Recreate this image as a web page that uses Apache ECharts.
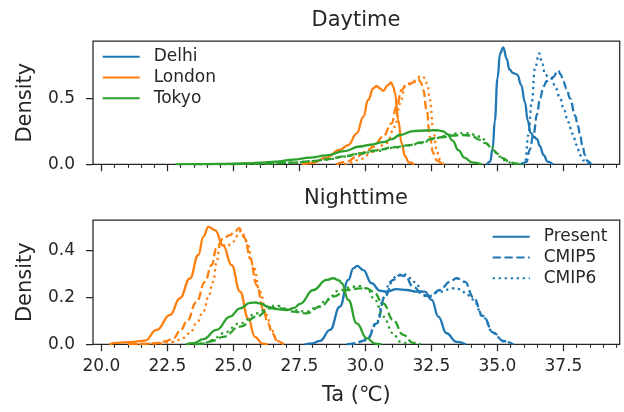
<!DOCTYPE html>
<html>
<head>
<meta charset="utf-8">
<script src="https://cdn.jsdelivr.net/npm/echarts@6/dist/echarts.min.js"></script>
<style>
  html, body { margin: 0; padding: 0; background: #ffffff; }
  #chart { width: 624px; height: 412px; }
</style>
</head>
<body>
<div id="chart"></div>
<script>
// Air temperature (Ta, °C) density curves: [temperature, density]
// ---- Daytime ----
const delhiDayPresent = [[34.6,0],[34.72,0.02],[34.82,0.12],[34.9,0.33],[35.0,0.65],[35.1,0.84],[35.22,0.886],[35.35,0.80],[35.45,0.72],[35.6,0.69],[35.75,0.68],[35.9,0.60],[36.04,0.47],[36.15,0.33],[36.25,0.24],[36.4,0.205],[36.5,0.19],[36.6,0.14],[36.75,0.07],[36.9,0.02],[37.1,0]];
const delhiDayCmip5 = [[35.95,0],[36.1,0.02],[36.22,0.11],[36.36,0.22],[36.5,0.38],[36.61,0.50],[36.75,0.59],[36.86,0.63],[37.0,0.64],[37.1,0.66],[37.3,0.71],[37.4,0.68],[37.49,0.63],[37.62,0.57],[37.75,0.50],[37.94,0.37],[38.05,0.29],[38.13,0.22],[38.22,0.14],[38.31,0.07],[38.4,0.025],[38.55,0]];
const delhiDayCmip6 = [[35.9,0],[36.05,0.02],[36.17,0.22],[36.3,0.47],[36.42,0.73],[36.58,0.84],[36.7,0.76],[36.8,0.68],[36.95,0.66],[37.05,0.65],[37.2,0.58],[37.37,0.50],[37.52,0.41],[37.68,0.32],[37.85,0.23],[38.0,0.146],[38.13,0.07],[38.25,0.03],[38.45,0]];
const londonDayPresent = [[27.6,0],[28.0,0.01],[28.5,0.05],[29.03,0.11],[29.35,0.146],[29.67,0.235],[29.92,0.36],[30.1,0.487],[30.3,0.576],[30.42,0.593],[30.55,0.575],[30.67,0.557],[30.85,0.60],[30.97,0.62],[31.05,0.59],[31.12,0.54],[31.24,0.335],[31.37,0.16],[31.5,0.06],[31.65,0.015],[31.85,0]];
const londonDayCmip5 = [[28.9,0],[29.3,0.02],[29.67,0.058],[30.0,0.095],[30.3,0.133],[30.67,0.21],[30.99,0.31],[31.18,0.44],[31.37,0.563],[31.56,0.61],[31.7,0.612],[31.81,0.62],[32.0,0.646],[32.1,0.62],[32.19,0.563],[32.32,0.41],[32.44,0.21],[32.57,0.083],[32.7,0.03],[32.9,0]];
const londonDayCmip6 = [[29.2,0],[29.5,0.015],[29.8,0.04],[30.3,0.095],[30.8,0.16],[31.12,0.285],[31.31,0.46],[31.5,0.59],[31.75,0.61],[31.95,0.65],[32.09,0.67],[32.25,0.655],[32.35,0.60],[32.44,0.49],[32.57,0.26],[32.7,0.108],[32.8,0.04],[32.95,0.005],[33.1,0]];
const tokyoDayPresent = [[22.8,0],[23.5,0.001],[24.5,0.003],[25.5,0.006],[26.0,0.012],[26.6,0.02],[27.27,0.036],[27.9,0.05],[28.53,0.068],[29.2,0.1],[29.79,0.135],[30.19,0.148],[30.67,0.168],[31.0,0.19],[31.3,0.222],[31.81,0.252],[32.3,0.256],[32.7,0.258],[32.95,0.25],[33.1,0.228],[33.3,0.18],[33.52,0.108],[33.75,0.05],[34.03,0.015],[34.4,0]];
const tokyoDayCmip5 = [[23.5,0],[25.0,0.002],[26.0,0.006],[27.25,0.012],[28.0,0.024],[28.53,0.038],[29.2,0.06],[29.79,0.083],[30.4,0.105],[31.05,0.129],[31.69,0.146],[32.1,0.165],[32.57,0.197],[32.88,0.205],[33.33,0.218],[33.65,0.222],[34.0,0.218],[34.33,0.185],[34.55,0.16],[34.84,0.108],[35.0,0.08],[35.22,0.045],[35.45,0.018],[35.7,0.005],[36.0,0]];
const tokyoDayCmip6 = [[23.5,0],[25.0,0.002],[26.0,0.006],[27.25,0.012],[28.0,0.024],[28.53,0.036],[29.2,0.058],[29.79,0.08],[30.4,0.1],[31.05,0.125],[31.69,0.145],[32.1,0.16],[32.57,0.19],[33.0,0.215],[33.4,0.232],[33.8,0.236],[34.1,0.225],[34.33,0.21],[34.7,0.146],[35.1,0.058],[35.35,0.02],[35.6,0.005],[35.9,0]];

// ---- Nighttime ----
const delhiNightPresent = [[27.7,0],[28.0,0.004],[28.28,0.015],[28.66,0.061],[29.03,0.16],[29.35,0.274],[29.54,0.323],[29.69,0.334],[29.92,0.316],[30.23,0.26],[30.55,0.228],[30.8,0.224],[31.18,0.235],[31.56,0.231],[31.94,0.224],[32.25,0.224],[32.51,0.189],[32.76,0.118],[33.07,0.047],[33.45,0.01],[33.8,0]];
const delhiNightCmip5 = [[29.3,0],[29.54,0.003],[30.05,0.018],[30.43,0.089],[30.74,0.203],[31.05,0.274],[31.31,0.295],[31.5,0.29],[31.81,0.245],[32.19,0.21],[32.44,0.203],[32.82,0.231],[33.2,0.266],[33.45,0.281],[33.77,0.266],[34.08,0.2],[34.46,0.12],[34.84,0.05],[35.22,0.014],[35.6,0]];
const delhiNightCmip6 = [[29.3,0],[29.6,0.004],[30.05,0.022],[30.43,0.095],[30.7,0.2],[30.93,0.266],[31.2,0.29],[31.43,0.302],[31.6,0.29],[31.81,0.266],[32.32,0.203],[32.82,0.224],[33.33,0.238],[33.6,0.235],[33.85,0.21],[34.08,0.19],[34.46,0.115],[34.84,0.048],[35.22,0.013],[35.6,0]];
const londonNightPresent = [[20.3,0],[20.58,0.006],[21.2,0.01],[21.65,0.016],[22.09,0.061],[22.6,0.125],[22.97,0.196],[23.35,0.28],[23.67,0.38],[23.86,0.458],[24.05,0.50],[24.3,0.486],[24.61,0.42],[24.93,0.337],[25.25,0.224],[25.56,0.11],[25.81,0.032],[26.1,0.003],[26.3,0]];
const londonNightCmip5 = [[21.0,0],[21.6,0.002],[22.09,0.005],[22.4,0.012],[22.72,0.025],[23.0,0.06],[23.23,0.096],[23.6,0.18],[23.92,0.266],[24.17,0.337],[24.36,0.41],[24.61,0.45],[24.87,0.465],[25.05,0.48],[25.22,0.494],[25.34,0.475],[25.44,0.45],[25.63,0.366],[25.88,0.252],[26.13,0.15],[26.3,0.09],[26.48,0.045],[26.67,0.012],[26.9,0]];
const londonNightCmip6 = [[21.3,0],[22.0,0.003],[22.72,0.01],[23.0,0.02],[23.35,0.047],[23.6,0.09],[23.86,0.139],[24.05,0.2],[24.23,0.266],[24.36,0.35],[24.49,0.42],[24.62,0.422],[24.74,0.415],[24.99,0.437],[25.25,0.48],[25.5,0.437],[25.75,0.337],[26.0,0.224],[26.26,0.125],[26.45,0.06],[26.65,0.015],[26.9,0]];
const tokyoNightPresent = [[23.2,0],[23.5,0.005],[23.86,0.022],[24.36,0.061],[24.87,0.118],[25.25,0.153],[25.63,0.176],[25.84,0.178],[26.0,0.174],[26.35,0.158],[26.64,0.15],[27.01,0.146],[27.3,0.155],[27.52,0.172],[28.02,0.231],[28.53,0.274],[28.78,0.281],[29.0,0.272],[29.1,0.26],[29.35,0.189],[29.67,0.089],[30.05,0.026],[30.37,0.003],[30.6,0]];
const tokyoNightCmip5 = [[23.6,0],[23.86,0.003],[24.2,0.014],[24.61,0.032],[25.25,0.075],[25.88,0.118],[26.38,0.153],[26.7,0.155],[27.0,0.148],[27.27,0.139],[27.77,0.132],[28.28,0.16],[28.78,0.203],[29.29,0.231],[29.79,0.238],[30.05,0.238],[30.3,0.224],[30.67,0.174],[31.05,0.103],[31.43,0.04],[31.81,0.006],[32.1,0]];
const tokyoNightCmip6 = [[23.5,0],[23.86,0.004],[24.2,0.018],[24.61,0.047],[25.25,0.089],[25.88,0.132],[26.38,0.164],[26.7,0.163],[27.0,0.152],[27.27,0.146],[27.77,0.139],[28.2,0.16],[28.53,0.189],[29.03,0.231],[29.54,0.245],[29.79,0.248],[30.05,0.238],[30.36,0.189],[30.67,0.118],[31.05,0.047],[31.3,0.012],[31.6,0]];

// Axis ticks and labels
const xMajorTicks = [20, 22.5, 25, 27.5, 30, 32.5, 35, 37.5];
const yTicksDay = [0, 0.5];
const yTicksNight = [0, 0.2, 0.4];
const cityNames = ['Delhi', 'London', 'Tokyo'];
const scenarioNames = ['Present', 'CMIP5', 'CMIP6'];
const panelTitles = ['Daytime', 'Nighttime'];

const X_MIN = 19.68, X_MAX = 39.63;
const Y_MAX_DAY = 0.934, Y_MAX_NIGHT = 0.529;

const xMinorTicks = [];
for (let v = 20; v <= 39.5 + 1e-9; v += 0.5) {
  if (Math.abs(v / 2.5 - Math.round(v / 2.5)) > 1e-6) xMinorTicks.push(v);
}

const FONT = 'DejaVu Sans';
const INK = '#262626';
const COLORS = { Delhi: '#1f77b4', London: '#ff7f0e', Tokyo: '#2ca02c' };
const LW = 2.3;
const DASH = { Present: 'solid', CMIP5: [8.2, 3.6], CMIP6: [2.3, 3.7] };

const curves = {
  0: { Delhi: [delhiDayPresent, delhiDayCmip5, delhiDayCmip6],
       London: [londonDayPresent, londonDayCmip5, londonDayCmip6],
       Tokyo: [tokyoDayPresent, tokyoDayCmip5, tokyoDayCmip6] },
  1: { Delhi: [delhiNightPresent, delhiNightCmip5, delhiNightCmip6],
       London: [londonNightPresent, londonNightCmip5, londonNightCmip6],
       Tokyo: [tokyoNightPresent, tokyoNightCmip5, tokyoNightCmip6] }
};

const series = [];
[0, 1].forEach(function (p) {
  cityNames.forEach(function (city) {
    scenarioNames.forEach(function (sc, k) {
      let name;
      if (p === 0) name = (sc === 'Present') ? city : city + ' ' + sc + ' (day)';
      else name = (city === 'Delhi') ? sc : city + ' ' + sc + ' (night)';
      series.push({
        name: name,
        type: 'line',
        xAxisIndex: p * 2,
        yAxisIndex: p,
        data: curves[p][city][k],
        smooth: 0.45,
        smoothMonotone: 'x',
        showSymbol: false,
        symbol: 'none',
        silent: true,
        animation: false,
        lineStyle: { color: COLORS[city], width: LW, type: DASH[sc] },
        itemStyle: { color: COLORS[city] },
        z: 3
      });
    });
  });
});

const gridTop = [41, 220];
const gridHeight = [123.3, 124.3];

function majorX(g) {
  return {
    type: 'value', gridIndex: g, min: X_MIN, max: X_MAX, position: 'bottom',
    axisLine: { show: false },
    splitLine: { show: false },
    axisTick: { show: true, customValues: xMajorTicks, length: 7, lineStyle: { color: INK, width: 1.25 } },
    axisLabel: { show: g === 1, customValues: xMajorTicks, margin: 14,
      formatter: function (v) { return v.toFixed(1); },
      color: INK, fontSize: 17, fontFamily: FONT },
    name: g === 1 ? 'Ta (℃)' : '',
    nameLocation: 'middle', nameGap: 41,
    nameTextStyle: { color: INK, fontSize: 21, fontFamily: FONT }
  };
}
function minorX(g) {
  return {
    type: 'value', gridIndex: g, min: X_MIN, max: X_MAX, position: 'bottom',
    axisLine: { show: false },
    splitLine: { show: false },
    axisTick: { show: true, customValues: xMinorTicks, length: 3.5, lineStyle: { color: INK, width: 1.1 } },
    axisLabel: { show: false }
  };
}
function yAx(g, ticks, max) {
  return {
    type: 'value', gridIndex: g, min: 0, max: max,
    axisLine: { show: false },
    splitLine: { show: false },
    axisTick: { show: true, customValues: ticks, length: 7, lineStyle: { color: INK, width: 1.25 } },
    axisLabel: { customValues: ticks, margin: 18,
      formatter: function (v) { return v.toFixed(1); },
      color: INK, fontSize: 17, fontFamily: FONT },
    name: 'Density', nameLocation: 'middle', nameRotate: 90, nameGap: 57,
    nameTextStyle: { color: INK, fontSize: 21, fontFamily: FONT }
  };
}

const legendText = { color: INK, fontSize: 17, fontFamily: FONT, lineHeight: 20.7, padding: [0, 0, 0, 9] };
const legendCommon = {
  orient: 'vertical', itemWidth: 37, itemHeight: 14, itemGap: 0, padding: 0,
  textStyle: legendText, selectedMode: false,
  itemStyle: { opacity: 0 }
};

const option = {
  backgroundColor: '#ffffff',
  animation: false,
  title: panelTitles.map(function (t, i) {
    return { text: t, left: 356, top: i === 0 ? 10 : 188, textAlign: 'center', padding: 0,
      textStyle: { color: INK, fontSize: 21, fontWeight: 'normal', fontFamily: FONT } };
  }),
  grid: [0, 1].map(function (g) {
    return { left: 93, right: 4.3, top: gridTop[g], height: gridHeight[g], show: true,
      borderColor: INK, borderWidth: 1.25, backgroundColor: 'transparent', containLabel: false };
  }),
  xAxis: [majorX(0), minorX(0), majorX(1), minorX(1)],
  yAxis: [yAx(0, yTicksDay, Y_MAX_DAY), yAx(1, yTicksNight, Y_MAX_NIGHT)],
  legend: [
    Object.assign({ data: cityNames, left: 101.7, top: 46.4 }, legendCommon),
    Object.assign({ data: scenarioNames, left: 491.7, top: 226.4 }, legendCommon)
  ],
  series: series
};

const chart = echarts.init(document.getElementById('chart'), null, { renderer: 'canvas' });
chart.setOption(option);
</script>
</body>
</html>
